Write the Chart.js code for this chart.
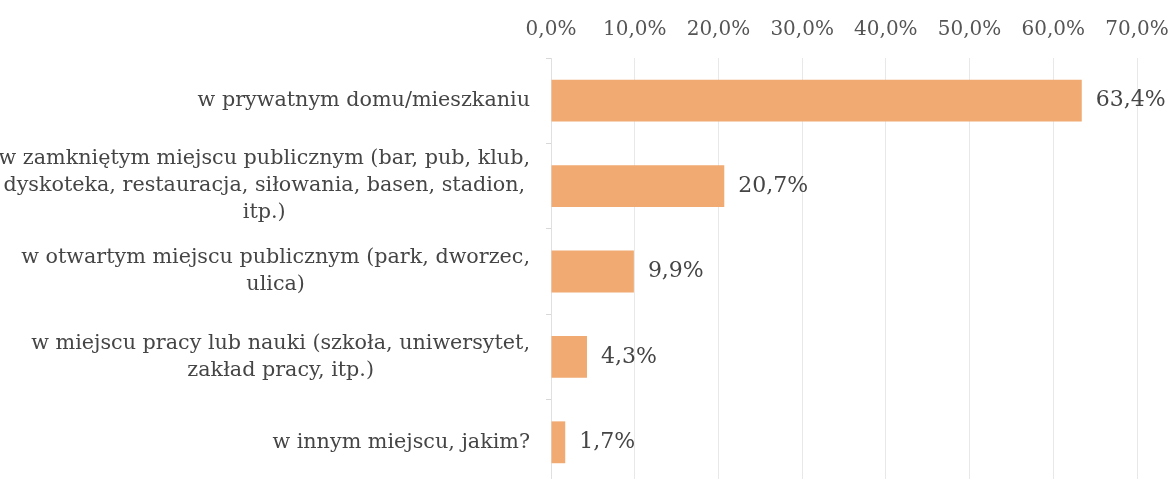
<!DOCTYPE html>
<html>
<head>
<meta charset="utf-8">
<script src="https://cdn.jsdelivr.net/npm/chart.js@4/dist/chart.umd.min.js"></script>
<style>
  html, body { margin: 0; padding: 0; background: #fff; overflow: hidden; }
  #wrap { position: relative; width: 1173px; height: 485px; }
</style>
</head>
<body>
<div id="wrap"><canvas id="c"></canvas></div>
<script>
const categories = [
  ["w prywatnym domu/mieszkaniu"],
  ["w zamkniętym miejscu publicznym (bar, pub, klub,", "dyskoteka, restauracja, siłowania, basen, stadion,", "itp.)"],
  ["w otwartym miejscu publicznym (park, dworzec,", "ulica)"],
  ["w miejscu pracy lub nauki (szkoła, uniwersytet,", "zakład pracy, itp.)"],
  ["w innym miejscu, jakim?"]
];
const values = [63.4, 20.7, 9.9, 4.3, 1.7];
const axisMin = 0;
const axisMax = 70;
const axisStep = 10;

const FONT = '"DejaVu Serif", "Liberation Serif", serif';
const TEXT = '#454545';
const fmt = v => v.toFixed(1).replace('.', ',') + '%';

const catLabelPlugin = {
  id: 'catLabels',
  afterDraw(chart) {
    const ctx = chart.ctx;
    const ys = chart.scales.y;
    const right = chart.chartArea.left - 21;
    const lh = 27;
    ctx.save();
    ctx.font = '20.7px ' + FONT;
    ctx.fillStyle = TEXT;
    ctx.textAlign = 'center';
    ctx.textBaseline = 'middle';
    categories.forEach((lines, i) => {
      const y = ys.getPixelForValue(i);
      const w = Math.max(...lines.map(l => ctx.measureText(l).width));
      const cx = right - w / 2;
      const y0 = y - (lines.length - 1) * lh / 2;
      lines.forEach((l, k) => ctx.fillText(l, cx, y0 + k * lh));
    });
    ctx.restore();
  }
};

const valueLabelPlugin = {
  id: 'valueLabels',
  afterDatasetsDraw(chart) {
    const ctx = chart.ctx;
    const meta = chart.getDatasetMeta(0);
    ctx.save();
    ctx.font = '22px ' + FONT;
    ctx.fillStyle = TEXT;
    ctx.textAlign = 'left';
    ctx.textBaseline = 'middle';
    meta.data.forEach((bar, i) => {
      ctx.fillText(fmt(values[i]), bar.x + 14, bar.y);
    });
    ctx.restore();
  }
};

new Chart(document.getElementById('c'), {
  type: 'bar',
  data: {
    labels: categories.map(l => l.join(' ')),
    datasets: [{
      data: values,
      backgroundColor: '#F0AA72',
      borderWidth: 0,
      barPercentage: 0.98,
      categoryPercentage: 0.5
    }]
  },
  options: {
    indexAxis: 'y',
    responsive: true,
    maintainAspectRatio: false,
    animation: false,
    layout: { padding: { top: 0, right: 36, left: 0, bottom: 0 } },
    plugins: { legend: { display: false }, tooltip: { enabled: false } },
    scales: {
      x: {
        position: 'top',
        min: axisMin,
        max: axisMax,
        ticks: {
          stepSize: axisStep,
          callback: v => fmt(v),
          color: '#555',
          font: { family: FONT, size: 20 },
          padding: 16
        },
        grid: { color: '#e8e8e8', drawTicks: false },
        border: { display: false },
        afterFit(s) { s.height = 58; s.paddingLeft = 0; s.paddingRight = 0; }
      },
      y: {
        ticks: { display: false },
        grid: { display: true, drawOnChartArea: false, offset: true, tickLength: 5, color: '#d8d8d8' },
        border: { display: true, color: '#e0e0e0' },
        afterFit(s) { s.width = 551; }
      }
    }
  },
  plugins: [catLabelPlugin, valueLabelPlugin]
});
</script>
</body>
</html>
